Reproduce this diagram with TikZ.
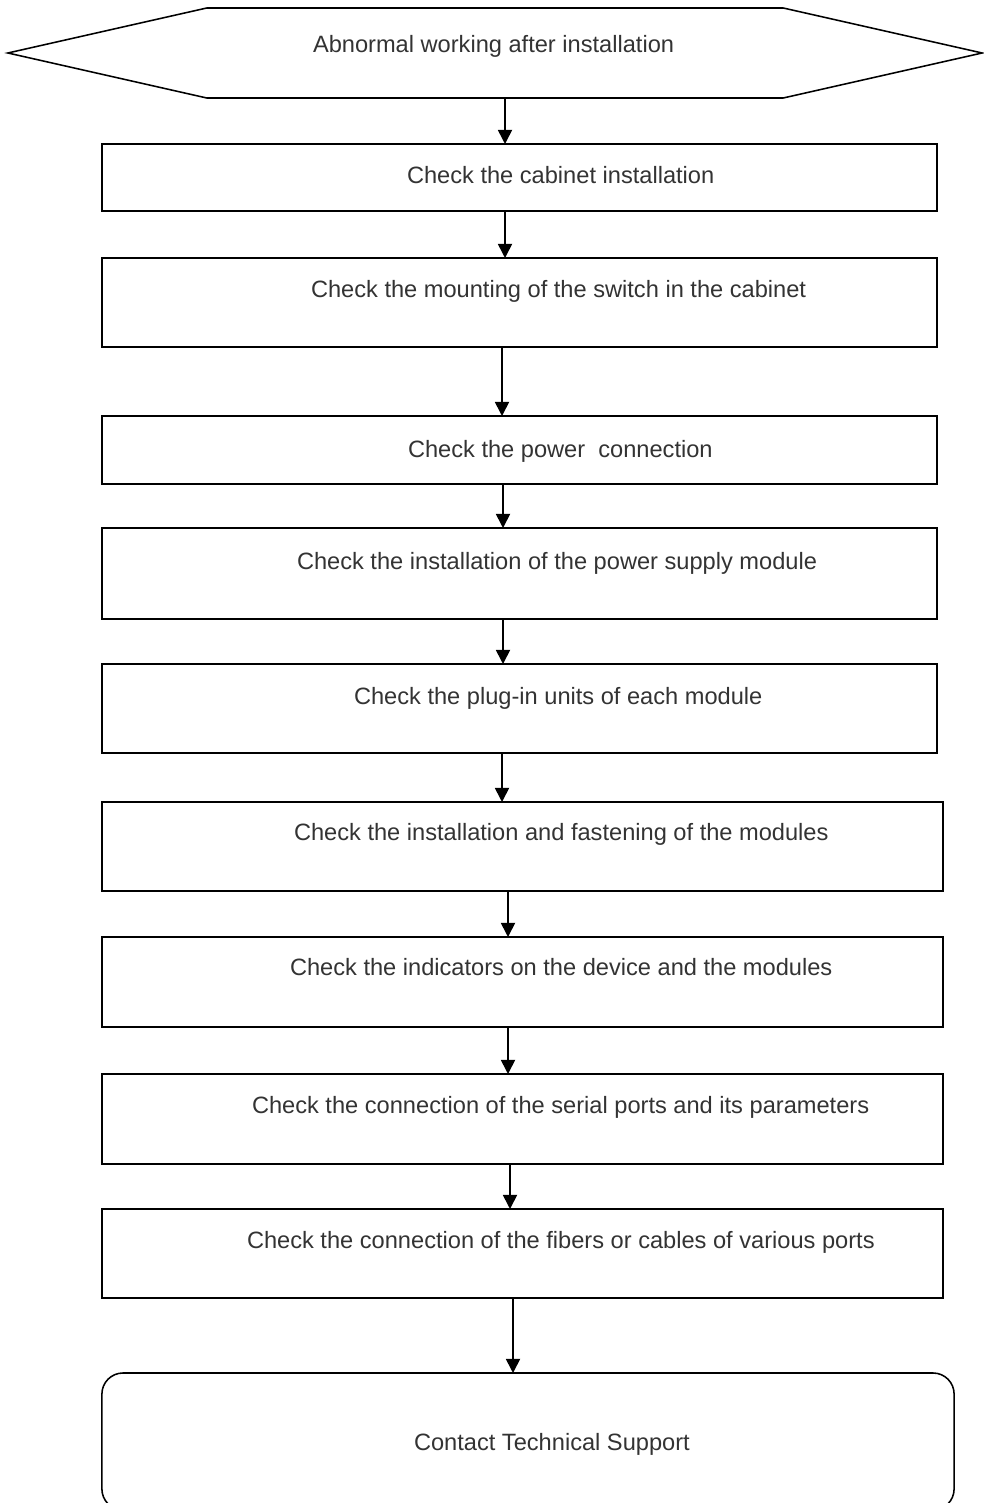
\documentclass[tikz,border=0pt]{standalone}
\usepackage{fontspec}
\setmainfont{Liberation Sans}
\usetikzlibrary{shapes.symbols,arrows.meta}

\tikzset{
  flow/.style={
    x=0.025cm, y=-0.025cm,
    every node/.style={inner sep=0pt, outer sep=0pt},
    stepbox/.style={
        draw,
        shape=rectangle,
        line width=1.1pt,
        minimum width=20.875cm,
    },
    wide/.style={minimum width=21.025cm},
    startbox/.style={
        draw,
        shape=signal,
        signal to=east and west,
        signal pointer angle=25.5,
        line width=1.1pt,
        minimum width=24.35cm,
        minimum height=2.25cm,
    },
    endbox/.style={
        draw,
        line width=1.1pt,
        rounded corners=15pt,
        minimum width=21.3cm,
        minimum height=3.425cm,
    },
    txt/.style={anchor=base west, text=black!80, font=\fontsize{16.8}{20}\selectfont},
    flowarrow/.style={-{Triangle[length=10pt,width=10pt]}, line width=1.2pt}
  }
}

\begin{document}
\begin{tikzpicture}[flow]
        \useasboundingbox (0,0) rectangle (984,1503);

        \node[startbox] (hex) at (495,53) {};
        \node[stepbox, minimum height=1.675cm] (b1) at (519.5,177.5) {};
        \node[stepbox, minimum height=2.225cm] (b2) at (519.5,302.5) {};
        \node[stepbox, minimum height=1.7cm] (b3) at (519.5,450) {};
        \node[stepbox, minimum height=2.275cm] (b4) at (519.5,573.5) {};
        \node[stepbox, minimum height=2.225cm] (b5) at (519.5,708.5) {};
        \node[stepbox, wide, minimum height=2.225cm] (b6) at (522.5,846.5) {};
        \node[stepbox, wide, minimum height=2.25cm] (b7) at (522.5,982) {};
        \node[stepbox, wide, minimum height=2.25cm] (b8) at (522.5,1119) {};
        \node[stepbox, wide, minimum height=2.225cm] (b9) at (522.5,1253.5) {};
        \node[endbox] (b10) at (528,1441.5) {};

        % texts
        \node[txt] (t0) at (313,53) {Abnormal working after installation};
        \node[txt] (t1) at (407,184) {Check the cabinet installation};
        \node[txt] (t2) at (311,298) {Check the mounting of the switch in the cabinet};
        \node[txt] (t3) at (408,457) {Check the power\ \ connection};
        \node[txt] (t4) at (297,569) {Check the installation of the power supply module};
        \node[txt] (t5) at (354,704) {Check the plug-in units of each module};
        \node[txt] (t6) at (294,840) {Check the installation and fastening of the modules};
        \node[txt] (t7) at (290,975) {Check the indicators on the device and the modules};
        \node[txt] (t8) at (252,1113) {Check the connection of the serial ports and its parameters};
        \node[txt] (t9) at (247,1248) {Check the connection of the fibers or cables of various ports};
        \node[txt] (t10) at (414,1450) {Contact Technical Support};

        \draw[flowarrow] (hex.south -| 505,0) -- (b1.north -| 505,0);
        \draw[flowarrow] (b1.south -| 505,0) -- (b2.north -| 505,0);
        \draw[flowarrow] (b2.south -| 502,0) -- (b3.north -| 502,0);
        \draw[flowarrow] (b3.south -| 503,0) -- (b4.north -| 503,0);
        \draw[flowarrow] (b4.south -| 503,0) -- (b5.north -| 503,0);
        \draw[flowarrow] (b5.south -| 502,0) -- (b6.north -| 502,0);
        \draw[flowarrow] (b6.south -| 508,0) -- (b7.north -| 508,0);
        \draw[flowarrow] (b7.south -| 508,0) -- (b8.north -| 508,0);
        \draw[flowarrow] (b8.south -| 510,0) -- (b9.north -| 510,0);
        \draw[flowarrow] (b9.south -| 513,0) -- (b10.north -| 513,0);
\end{tikzpicture}
\end{document}
